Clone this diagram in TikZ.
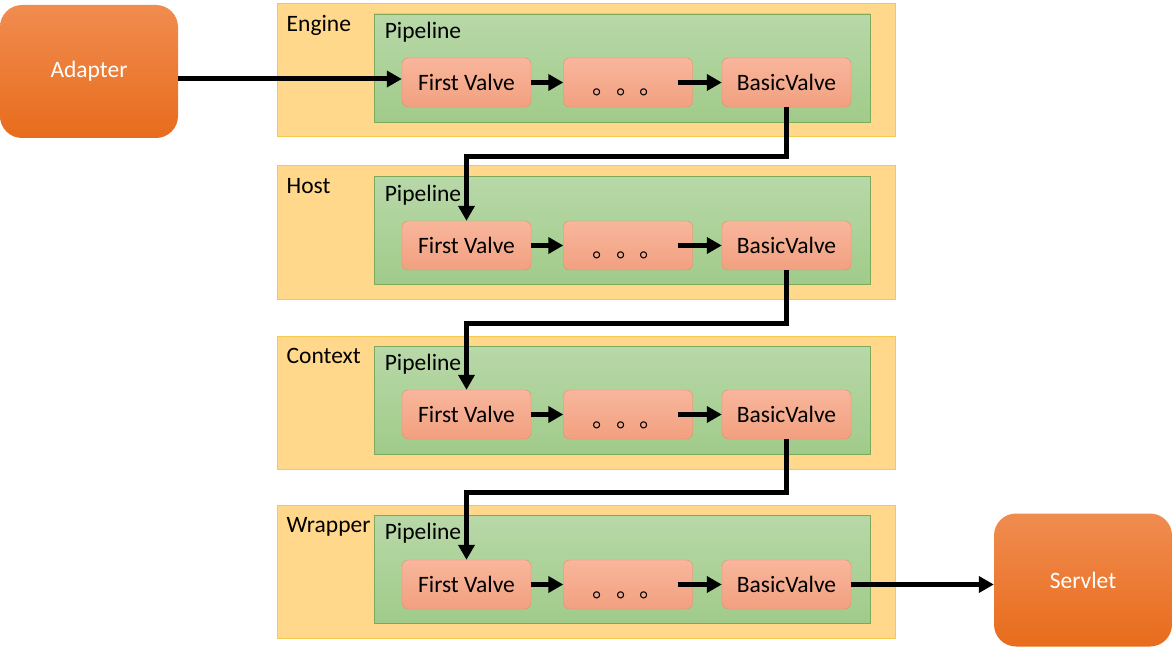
\documentclass[tikz,border=0pt]{standalone}
\usepackage{fontspec}
\setmainfont{Carlito}
\newfontfamily\cjk{Noto Sans CJK SC}
\usetikzlibrary{arrows.meta, calc}

\definecolor{boxyellow}{RGB}{255,216,140}
\definecolor{lineyellow}{RGB}{245,200,80}
\definecolor{pipetop}{RGB}{184,216,168}
\definecolor{pipebottom}{RGB}{160,203,138}
\definecolor{linegreen}{RGB}{125,170,90}
\definecolor{valvetop}{RGB}{248,182,156}
\definecolor{valvebottom}{RGB}{242,160,128}
\definecolor{linesalmon}{RGB}{230,140,105}
\definecolor{endtop}{RGB}{240,140,80}
\definecolor{endbottom}{RGB}{232,108,28}

\newcommand{\valvedots}{\raisebox{-12.5pt}[0pt][0pt]{\cjk 。。。}}

\tikzset{
    container/.style = {draw = lineyellow, fill = boxyellow, line width = 1,
        minimum width = 618, minimum height = 133, inner sep = 0},
    pipeline/.style = {draw = linegreen, top color = pipetop, bottom color = pipebottom,
        line width = 0.8, minimum width = 496, minimum height = 108, inner sep = 0},
    valve/.style = {draw = linesalmon, top color = valvetop, bottom color = valvebottom,
        rounded corners = 6, minimum width = 129, minimum height = 49, inner sep = 0},
    endpoint/.style = {top color = endtop, bottom color = endbottom, text = white,
        rounded corners = 22, minimum width = 178, minimum height = 133, inner sep = 0},
    title/.style = {anchor = base west, inner sep = 0},
    flow/.style = {line width = 5, -{Triangle[length = 15, width = 16]}},
}

\begin{document}
\begin{tikzpicture}[x = 1pt, y = -1pt, font = \fontsize{23.5}{28}\selectfont]
    \useasboundingbox (0, 0) rectangle (1173, 647);

    \node [endpoint] (adp) at (89, 71.5) {Adapter};
    \node [endpoint] (srv) at (1083, 580) {Servlet};

    % Engine
    \node [container] (eng) at (586, 70.5) {};
    \node [pipeline] (engp) at (622, 68) {};
    \node [title] (engt) at ([shift = {(10, 28)}] eng.north west) {Engine};
    \node [title] (engpt) at ([shift = {(11, 25)}] engp.north west) {Pipeline};
    \node [valve] (engf) at (466.5, 82.5) {First Valve};
    \node [valve] (engd) at (628, 82.5) {\valvedots};
    \node [valve] (engb) at (786.5, 82.5) {BasicValve};

    % Host
    \node [container] (hst) at (586, 232.5) {};
    \node [pipeline] (hstp) at (622, 230.5) {};
    \node [title] (hstt) at ([shift = {(10, 28)}] hst.north west) {Host};
    \node [title] (hstpt) at ([shift = {(11, 25)}] hstp.north west) {Pipeline};
    \node [valve] (hstf) at (466.5, 245.5) {First Valve};
    \node [valve] (hstd) at (628, 245.5) {\valvedots};
    \node [valve] (hstb) at (786.5, 245.5) {BasicValve};

    % Context
    \node [container] (ctx) at (586, 402.5) {};
    \node [pipeline] (ctxp) at (622, 400) {};
    \node [title] (ctxt) at ([shift = {(10, 28)}] ctx.north west) {Context};
    \node [title] (ctxpt) at ([shift = {(11, 25)}] ctxp.north west) {Pipeline};
    \node [valve] (ctxf) at (466.5, 414.5) {First Valve};
    \node [valve] (ctxd) at (628, 414.5) {\valvedots};
    \node [valve] (ctxb) at (786.5, 414.5) {BasicValve};

    % Wrapper
    \node [container] (wrp) at (586, 571.5) {};
    \node [pipeline] (wrpp) at (622, 569) {};
    \node [title] (wrpt) at ([shift = {(10, 28)}] wrp.north west) {Wrapper};
    \node [title] (wrppt) at ([shift = {(11, 25)}] wrpp.north west) {Pipeline};
    \node [valve] (wrpf) at (466.5, 584.5) {First Valve};
    \node [valve] (wrpd) at (628, 584.5) {\valvedots};
    \node [valve] (wrpb) at (786.5, 584.5) {BasicValve};

    \draw [flow] ([yshift = 3.5] adp.east |- engf.west) -- ([yshift = 3.5] engf.west);
    \draw [flow] (engf) -- (engd);
    \draw [flow, shorten <= -15] (engd) -- (engb);
    \draw [flow] (engb.south) -- ++(0, 49) -| (hstf.north);
    \draw [flow] (hstf) -- (hstd);
    \draw [flow, shorten <= -15] (hstd) -- (hstb);
    \draw [flow] (hstb.south) -- ++(0, 53) -| (ctxf.north);
    \draw [flow] (ctxf) -- (ctxd);
    \draw [flow, shorten <= -15] (ctxd) -- (ctxb);
    \draw [flow] (ctxb.south) -- ++(0, 53) -| (wrpf.north);
    \draw [flow] (wrpf) -- (wrpd);
    \draw [flow, shorten <= -15] (wrpd) -- (wrpb);
    \draw [flow] (wrpb.east) -- (wrpb.east -| srv.west);
\end{tikzpicture}
\end{document}
